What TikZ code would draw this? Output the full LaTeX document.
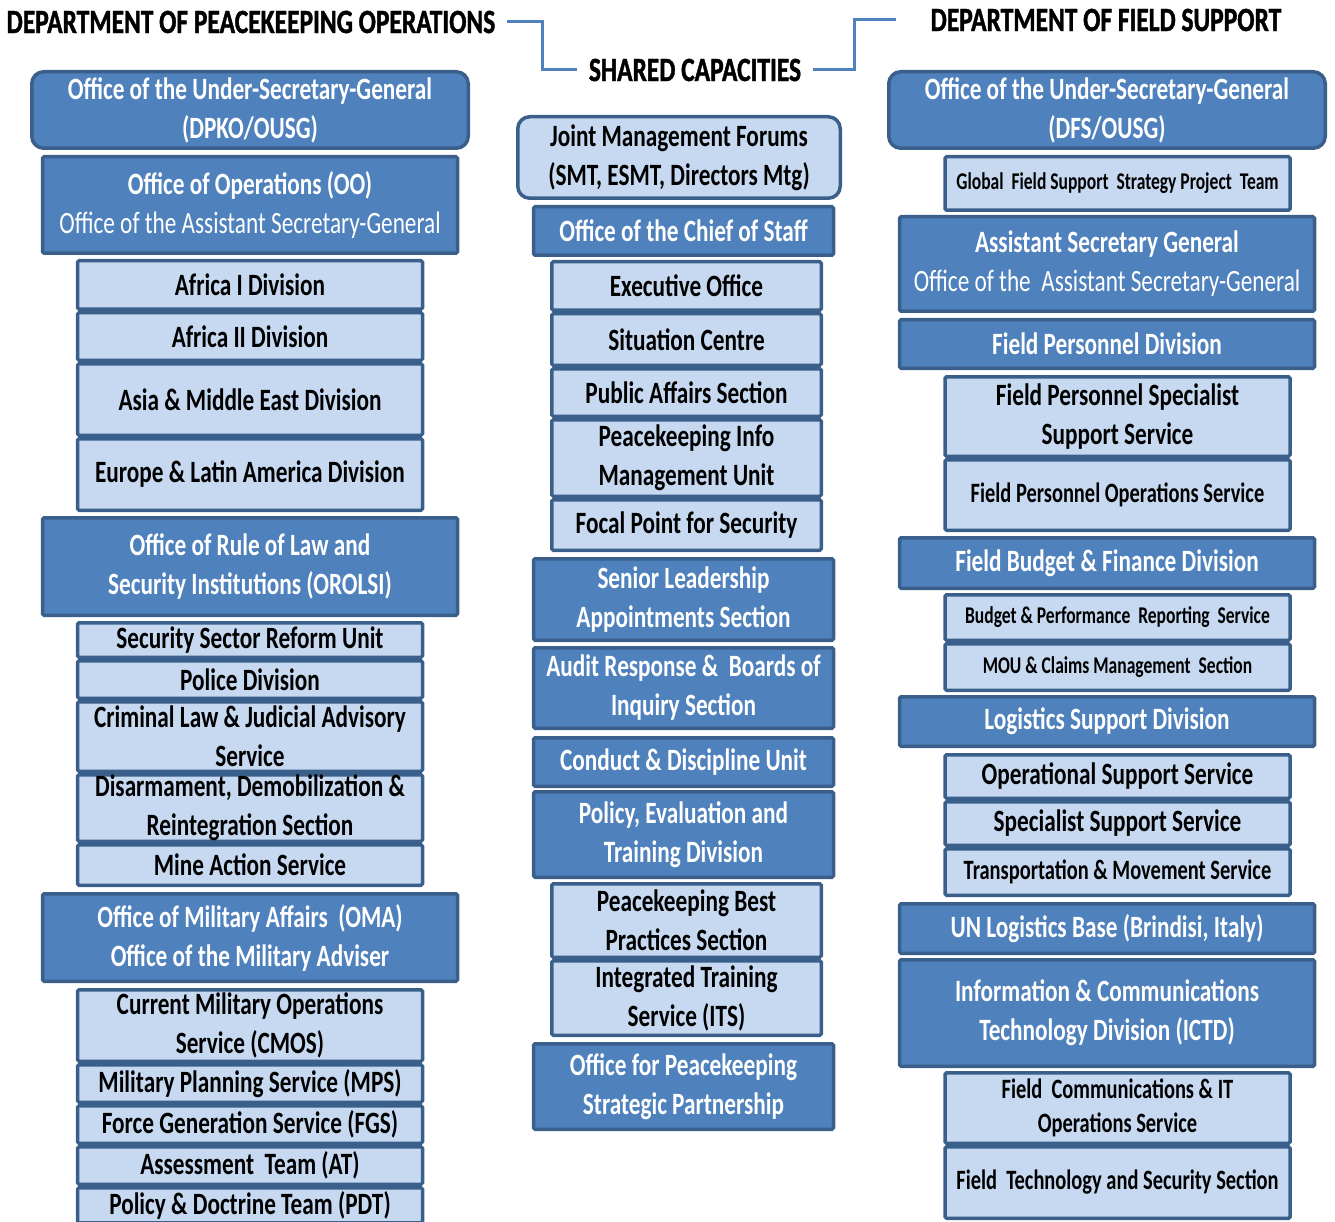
\documentclass[tikz,border=0pt]{standalone}
\usepackage{fontspec}
\setmainfont{Carlito}[FakeStretch=0.75]
\newfontfamily\narrowfont{Carlito}[FakeStretch=0.73]
\newfontfamily\headfont{Carlito}[FakeStretch=0.75, FakeBold=1.2]
\usetikzlibrary{positioning, calc}
\definecolor{boxblue}{HTML}{4F81BD}
\definecolor{edgeblue}{HTML}{3A5F8B}
\definecolor{paleblue}{HTML}{C6D9F1}

\begin{document}
\begin{tikzpicture}[x=1pt, y=-1pt,
        box_base/.style={draw=edgeblue, line width=3.5pt, rounded corners=1.5pt, align=center, inner sep=0pt,
            font=\fontsize{31}{39}\selectfont\bfseries},
        dark_box/.style={box_base, fill=boxblue, text=white},
        light_box/.style={box_base, fill=paleblue, text=black},
        round_box/.style={rounded corners=12pt},
        tall/.style={minimum height=#1},
        l_head/.style={minimum width=436.5pt},
        l_main/.style={minimum width=415pt},
        l_sub/.style={minimum width=345pt},
        c_main/.style={minimum width=300pt},
        c_sub/.style={minimum width=269.5pt},
        narrow_text/.style={font=\narrowfont\fontsize{28}{34}\selectfont\bfseries},
        small_text/.style={font=\narrowfont\fontsize{24}{28}\selectfont\bfseries},
        head_label/.style={font=\headfont\fontsize{34}{40}\selectfont\bfseries, inner xsep=12pt, inner ysep=0pt},
        head_line/.style={draw=boxblue, line width=3pt}]

    \useasboundingbox (0,0) rectangle (1335,1222);
    \clip (0,0) rectangle (1335,1222);

    % Column headings
    \node[head_label] (dpkohead) at (251,22) {DEPARTMENT OF PEACEKEEPING OPERATIONS};
    \node[head_label] (sharedhead) at (695,70) {SHARED CAPACITIES};
    \node[head_label] (dfshead) at (1106,20) {DEPARTMENT OF FIELD SUPPORT};
    \coordinate (dfs_in) at ([xshift=-23pt]dfshead.west);

    \draw[head_line] (dpkohead.east) -| ($(dpkohead.east)!0.5!(sharedhead.west)$) |- (sharedhead.west);
    \draw[head_line] (sharedhead.east) -| ($(sharedhead.east)!0.5!(dfs_in)$) |- (dfs_in);

    % DPKO column
    \node[dark_box, round_box, l_head, tall=76.5pt] (dpkousg) at (250,110) {Office of the Under-Secretary-General\\(DPKO/OUSG)};
    \node[dark_box, l_main, tall=96.5pt, below=5pt of dpkousg] (oo) {Office of Operations (OO)\\{\mdseries Office of the Assistant Secretary-General}};
    \node[light_box, l_sub, tall=48.5pt, below=4pt of oo] (africa1) {Africa I Division};
    \node[light_box, l_sub, tall=47.5pt, below=0pt of africa1] (africa2) {Africa II Division};
    \node[light_box, l_sub, tall=71.5pt, below=0pt of africa2] (asia) {Asia \& Middle East Division};
    \node[light_box, l_sub, tall=71.5pt, below=0pt of asia] (europe) {Europe \& Latin America Division};

    \node[dark_box, l_main, tall=97.5pt, below=4pt of europe] (orolsi) {Office of Rule of Law and\\Security Institutions (OROLSI)};
    \node[light_box, l_sub, tall=34.5pt, below=4pt of orolsi] (ssr) {Security Sector Reform Unit};
    \node[light_box, l_sub, tall=37.5pt, below=0pt of ssr] (police) {Police Division};
    \node[light_box, l_sub, tall=69.5pt, below=0pt of police] (crimlaw) {Criminal Law \& Judicial Advisory\\Service};
    \node[light_box, l_sub, tall=66.5pt, below=0pt of crimlaw] (ddr) {Disarmament, Demobilization \&\\Reintegration Section};
    \node[light_box, l_sub, tall=40.5pt, below=0pt of ddr] (mine) {Mine Action Service};

    \node[dark_box, l_main, tall=87.5pt, below=5pt of mine] (oma) {Office of Military Affairs\ \ (OMA)\\Office of the Military Adviser};
    \node[light_box, l_sub, tall=71.5pt, below=5pt of oma] (cmos) {Current Military Operations\\Service (CMOS)};
    \node[light_box, l_sub, tall=37.5pt, below=0pt of cmos] (mps) {Military Planning Service (MPS)};
    \node[light_box, l_sub, tall=37.5pt, below=0pt of mps] (fgs) {Force Generation Service (FGS)};
    \node[light_box, l_sub, tall=37.5pt, below=0pt of fgs] (at) {Assessment\ \ Team (AT)};
    \node[light_box, l_sub, tall=35pt, below=0pt of at] (pdt) {Policy \& Doctrine Team (PDT)};

    % Shared capacities column
    \node[light_box, round_box, minimum width=322.5pt, tall=81.5pt] (jmf) at (679,157.5) {Joint Management Forums\\(SMT, ESMT, Directors Mtg)};
    \node[dark_box, c_main, tall=48.5pt, below=5pt of jmf, xshift=4.5pt] (cos) {Office of the Chief of Staff};
    \node[light_box, c_sub, tall=48.5pt, below=3pt of cos, xshift=3pt] (exec) {Executive Office};
    \node[light_box, c_sub, tall=51.5pt, below=0pt of exec] (sitcen) {Situation Centre};
    \node[light_box, c_sub, tall=47.5pt, below=0pt of sitcen] (pas) {Public Affairs Section};
    \node[light_box, c_sub, tall=76.5pt, below=0pt of pas] (pkinfo) {Peacekeeping Info\\Management Unit};
    \node[light_box, c_sub, tall=50.5pt, below=0pt of pkinfo] (focal) {Focal Point for Security};

    \node[dark_box, c_main, tall=81.5pt, below=5pt of focal, xshift=-3pt] (sla) {Senior Leadership\\Appointments Section};
    \node[dark_box, c_main, tall=80.5pt, below=4pt of sla] (audit) {Audit Response \& \ Boards of\\Inquiry Section};
    \node[dark_box, c_main, tall=48.5pt, below=6pt of audit] (cdu) {Conduct \& Discipline Unit};
    \node[dark_box, c_main, tall=85.5pt, below=2pt of cdu] (petd) {Policy, Evaluation and\\Training Division};
    \node[light_box, c_sub, tall=73.5pt, below=3pt of petd, xshift=3pt] (pkbp) {Peacekeeping Best\\Practices Section};
    \node[light_box, c_sub, tall=74.5pt, below=0pt of pkbp] (its) {Integrated Training\\Service (ITS)};
    \node[dark_box, c_main, tall=85.5pt, below=5pt of its, xshift=-3pt] (opsp) {Office for Peacekeeping\\Strategic Partnership};

    % DFS column
    \node[dark_box, round_box, l_head, tall=76.5pt] (dfsousg) at (1107,110) {Office of the Under-Secretary-General\\(DFS/OUSG)};
    \node[light_box, small_text, l_sub, tall=53.5pt, below=5pt of dfsousg, xshift=10.5pt] (gfss) {Global\ \ Field Support\ \ Strategy Project\ \ Team};
    \node[dark_box, l_main, tall=94.5pt, below=3pt of gfss, xshift=-10.5pt] (asg) {Assistant Secretary General\\{\mdseries Office of the\ \ Assistant Secretary-General}};
    \node[dark_box, l_main, tall=48.5pt, below=5pt of asg] (fpd) {Field Personnel Division};
    \node[light_box, l_sub, tall=79.5pt, below=5pt of fpd, xshift=10.5pt] (fpsss) {Field Personnel Specialist\\Support Service};
    \node[light_box, narrow_text, l_sub, tall=70.5pt, below=0pt of fpsss] (fpos) {Field Personnel Operations Service};
    \node[dark_box, l_main, tall=50.5pt, below=4pt of fpos, xshift=-10.5pt] (fbfd) {Field Budget \& Finance Division};
    \node[light_box, small_text, l_sub, tall=45.5pt, below=3pt of fbfd, xshift=10.5pt] (bprs) {Budget \& Performance\ \ Reporting\ \ Service};
    \node[light_box, small_text, l_sub, tall=46.5pt, below=0pt of bprs] (mou) {MOU \& Claims Management\ \ Section};
    \node[dark_box, l_main, tall=49.5pt, below=3pt of mou, xshift=-10.5pt] (lsd) {Logistics Support Division};
    \node[light_box, l_sub, tall=43.5pt, below=5pt of lsd, xshift=10.5pt] (oss) {Operational Support Service};
    \node[light_box, l_sub, tall=43.5pt, below=0pt of oss] (sss) {Specialist Support Service};
    \node[light_box, narrow_text, l_sub, tall=46.5pt, below=0pt of sss] (tms) {Transportation \& Movement Service};
    \node[dark_box, l_main, tall=49.5pt, below=5pt of tms, xshift=-10.5pt] (unlb) {UN Logistics Base (Brindisi, Italy)};
    \node[dark_box, l_main, tall=106.5pt, below=3pt of unlb] (ictd) {Information \& Communications\\Technology Division (ICTD)};
    \node[light_box, narrow_text, l_sub, tall=70.5pt, below=3pt of ictd, xshift=10.5pt] (fcitos) {Field\ \ Communications \& IT\\Operations Service};
    \node[light_box, narrow_text, l_sub, tall=71.5pt, below=0pt of fcitos] (ftss) {Field\ \ Technology and Security Section};
\end{tikzpicture}
\end{document}
